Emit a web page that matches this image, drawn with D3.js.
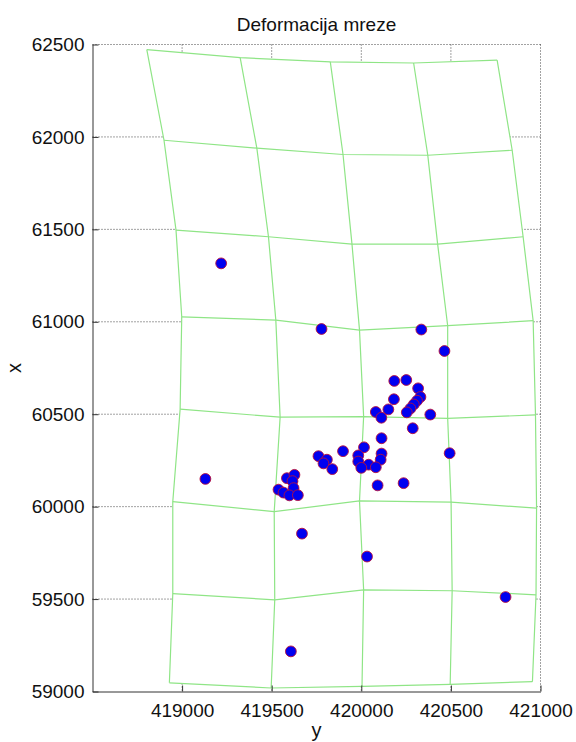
<!DOCTYPE html>
<html>
<head>
<meta charset="utf-8">
<title>Deformacija mreze</title>
<script src="https://cdn.jsdelivr.net/npm/d3@7"></script>
<style>
  body { margin: 0; background: #fff; }
  svg text { font-family: "Liberation Sans", Arial, sans-serif; fill: #111; }
  .grid line { stroke: #444; stroke-width: 1; stroke-dasharray: 1,2; }
  .mesh-fill { fill: #fff; stroke: none; }
  .mesh path { fill: none; stroke: #8fe586; stroke-width: 1.2; }
  .axis path, .axis line { stroke: #333; }
  .point { fill: #0000f0; stroke: #b8103c; stroke-width: 0.9; }
</style>
</head>
<body>
<svg id="chart" width="576" height="742"></svg>
<script>
// tick values: horizontal axis is "y", vertical axis is "x"
var yTicks = [419000, 419500, 420000, 420500, 421000];
var xTicks = [59000, 59500, 60000, 60500, 61000, 61500, 62000, 62500];

// deformed net nodes, rows top to bottom, columns left to right
var meshY = [
  [418803, 419324, 419827, 420292, 420758],
  [418899, 419417, 419898, 420371, 420842],
  [418966, 419482, 419948, 420426, 420903],
  [418998, 419523, 419990, 420482, 420959],
  [418989, 419547, 420013, 420482, 420972],
  [418948, 419514, 419990, 420501, 420978],
  [418948, 419517, 420013, 420507, 420975],
  [418929, 419497, 420004, 420496, 420955]
];
var meshX = [
  [62472, 62429, 62406, 62400, 62415],
  [61982, 61939, 61905, 61901, 61928],
  [61496, 61460, 61420, 61420, 61460],
  [61027, 61009, 60955, 60979, 61006],
  [60527, 60484, 60487, 60478, 60496],
  [60027, 59973, 60031, 60024, 59992],
  [59529, 59496, 59550, 59545, 59523],
  [59047, 59019, 59028, 59039, 59053]
];

// measured points
var pointY = [419218, 419778, 420335, 420464, 420184, 420251, 420317, 420330, 420182, 420311,
  420293, 420274, 420254, 420151, 420081, 420112, 420385, 420287, 420113, 420015,
  419898, 420113, 419983, 420108, 419983, 420041, 420000, 420081, 420091, 420236,
  420493, 419761, 419808, 419789, 419838, 419585, 419627, 419616, 419622, 419538,
  419566, 419599, 419646, 419669, 419130, 420032, 420805, 419607];
var pointX = [61316, 60961, 60958, 60842, 60680, 60685, 60640, 60593, 60581, 60573,
  60553, 60531, 60510, 60526, 60512, 60481, 60498, 60424, 60370, 60321,
  60300, 60287, 60277, 60254, 60244, 60227, 60210, 60213, 60115, 60127,
  60289, 60273, 60254, 60234, 60203, 60154, 60172, 60138, 60100, 60092,
  60076, 60061, 60062, 59854, 60150, 59730, 59511, 59217];

(function() {
  var pLeft = 92.5, pRight = 540.5, pTop = 44.5, pBottom = 691.5;

  var sx = d3.scaleLinear().domain([418500, 421000]).range([pLeft, pRight]);
  var sy = d3.scaleLinear().domain([59000, 62500]).range([pBottom, pTop]);

  var svg = d3.select('#chart');

  // dotted grid (drawn first, the net covers it)
  var grid = svg.append('g').attr('class', 'grid');
  grid.selectAll('line.v')
    .data(yTicks)
    .enter().append('line')
    .attr('class', 'v')
    .attr('x1', function(d) { return sx(d); })
    .attr('x2', function(d) { return sx(d); })
    .attr('y1', pTop)
    .attr('y2', pBottom);
  grid.selectAll('line.h')
    .data(xTicks.slice(1))
    .enter().append('line')
    .attr('class', 'h')
    .attr('x1', pLeft)
    .attr('x2', pRight)
    .attr('y1', function(d) { return sy(d); })
    .attr('y2', function(d) { return sy(d); });

  // nodes as [y, x] pairs
  var rows = meshY.map(function(r, i) {
    return r.map(function(v, j) { return [v, meshX[i][j]]; });
  });
  var cols = rows[0].map(function(_, j) {
    return rows.map(function(r) { return r[j]; });
  });

  var line = d3.line()
    .x(function(p) { return sx(p[0]); })
    .y(function(p) { return sy(p[1]); });

  // white patch inside the outline of the net
  var outline = rows[0]
    .concat(cols[cols.length - 1])
    .concat(rows[rows.length - 1].slice().reverse())
    .concat(cols[0].slice().reverse());
  svg.append('path')
    .attr('class', 'mesh-fill')
    .attr('d', line(outline) + 'Z');

  var mesh = svg.append('g').attr('class', 'mesh');
  mesh.selectAll('path.row')
    .data(rows)
    .enter().append('path')
    .attr('class', 'row')
    .attr('d', line);
  mesh.selectAll('path.col')
    .data(cols)
    .enter().append('path')
    .attr('class', 'col')
    .attr('d', line);

  // axes, ticks point inward
  svg.append('g')
    .attr('class', 'axis')
    .attr('transform', 'translate(0,' + pBottom + ')')
    .call(d3.axisBottom(sx).tickValues(yTicks).tickFormat(d3.format('d'))
      .tickSizeInner(-6).tickSizeOuter(0).tickPadding(12));
  svg.append('g')
    .attr('class', 'axis')
    .attr('transform', 'translate(' + pLeft + ',0)')
    .call(d3.axisLeft(sy).tickValues(xTicks).tickFormat(d3.format('d'))
      .tickSizeInner(-6).tickSizeOuter(0).tickPadding(8));
  svg.selectAll('.axis')
    .attr('font-family', null)
    .attr('font-size', null);
  svg.selectAll('.axis text')
    .style('font-size', '19px');

  // points
  svg.append('g').selectAll('circle')
    .data(pointY)
    .enter().append('circle')
    .attr('class', 'point')
    .attr('r', 5.4)
    .attr('cx', function(d) { return sx(d); })
    .attr('cy', function(d, i) { return sy(pointX[i]); });

  // labels
  svg.append('text')
    .attr('x', (pLeft + pRight) / 2)
    .attr('y', 31)
    .attr('text-anchor', 'middle')
    .style('font-size', '19px')
    .text('Deformacija mreze');
  svg.append('text')
    .attr('x', (pLeft + pRight) / 2)
    .attr('y', 737)
    .attr('text-anchor', 'middle')
    .style('font-size', '20px')
    .text('y');
  svg.append('text')
    .attr('transform', 'translate(21,' + ((pTop + pBottom) / 2) + ') rotate(-90)')
    .attr('text-anchor', 'middle')
    .style('font-size', '20px')
    .text('x');
})();
</script>
</body>
</html>
